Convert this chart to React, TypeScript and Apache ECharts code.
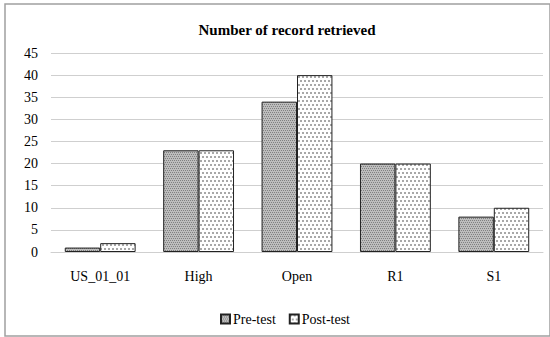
import React, { useEffect, useRef } from "react";
import * as echarts from "echarts";

const categories = ["US_01_01", "High", "Open", "R1", "S1"];
const preTest = [1, 23, 34, 20, 8];
const postTest = [2, 23, 40, 20, 10];
const seriesNames = ["Pre-test", "Post-test"];
const yMin = 0;
const yMax = 45;
const yInterval = 5;

function makePattern(bg: string, dot: string, step: number, offset: boolean, dotSize: number) {
  const c = document.createElement("canvas");
  c.width = step * 2;
  c.height = step * 2;
  const ctx = c.getContext("2d")!;
  ctx.fillStyle = bg;
  ctx.fillRect(0, 0, c.width, c.height);
  ctx.fillStyle = dot;
  for (let r = 0; r < 2; r++) {
    for (let k = 0; k < 2; k++) {
      const x = k * step + (offset && r % 2 ? step / 2 : 0);
      ctx.fillRect(Math.floor(x), r * step, dotSize, dotSize);
    }
  }
  return c;
}

export default function App() {
  const ref = useRef<HTMLDivElement>(null);
  useEffect(() => {
    const chart = echarts.init(ref.current!, null, { renderer: "svg" });
    const prePat = makePattern("#bdbdbd", "#808080", 2, true, 1);
    const postPat = makePattern("#ffffff", "#a8a8a8", 4, true, 2);
    const font = "Times New Roman, Liberation Serif, serif";
    chart.setOption({
      animation: false,
      backgroundColor: "#ffffff",
      textStyle: { fontFamily: font },
      title: {
        text: "Number of record retrieved",
        left: 282,
        textAlign: "center",
        top: 17,
        textStyle: { fontFamily: font, fontSize: 15, fontWeight: "bold", color: "#000" },
      },
      legend: {
        data: seriesNames,
        left: 215,
        top: 307,
        icon: "rect",
        itemWidth: 9,
        itemHeight: 9,
        itemGap: 13,
        textStyle: { fontFamily: font, fontSize: 14, color: "#000", padding: [0, 0, 0, -2] },
      },
      graphic: [
        {
          type: "rect",
          shape: { x: 5, y: 4, width: 545, height: 332 },
          style: { fill: "none", stroke: "#a0a0a0", lineWidth: 1.5 },
          silent: true,
        },
      ],
      grid: { left: 51, right: 7, top: 53, bottom: 85, containLabel: false },
      xAxis: {
        type: "category",
        data: categories,
        axisLine: { show: true, lineStyle: { color: "#cfcfcf", width: 1 } },
        axisTick: { show: false },
        axisLabel: { color: "#000", fontSize: 14, fontFamily: font, margin: 17 },
      },
      yAxis: {
        type: "value",
        min: yMin,
        max: yMax,
        interval: yInterval,
        axisLine: { show: false },
        axisTick: { show: false },
        axisLabel: { color: "#000", fontSize: 14, fontFamily: font, margin: 13 },
        splitLine: { lineStyle: { color: "#cfcfcf", width: 1 } },
      },
      series: [
        {
          name: seriesNames[0],
          type: "bar",
          data: preTest,
          barGap: "0%",
          barCategoryGap: "28%",
          itemStyle: {
            color: { image: prePat, repeat: "repeat" },
            borderColor: "#222",
            borderWidth: 1,
          },
        },
        {
          name: seriesNames[1],
          type: "bar",
          data: postTest,
          barGap: "0%",
          barCategoryGap: "28%",
          itemStyle: {
            color: { image: postPat, repeat: "repeat" },
            borderColor: "#222",
            borderWidth: 1,
          },
        },
      ],
    });
    return () => chart.dispose();
  }, []);
  return (
    <div
      ref={ref}
      style={{ position: "fixed", left: 0, top: 0, width: 550, height: 337 }}
    />
  );
}
